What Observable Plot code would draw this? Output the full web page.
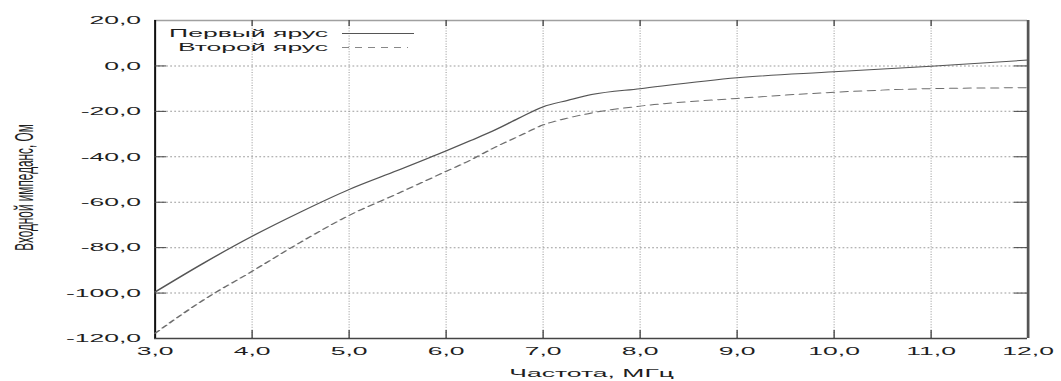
<!DOCTYPE html>
<html><head><meta charset="utf-8">
<script src="https://cdn.jsdelivr.net/npm/d3@7"></script>
<script src="https://cdn.jsdelivr.net/npm/@observablehq/plot@0.6"></script>
<style>
body{margin:0;background:#fff;}
#wrap{position:relative;width:1061px;height:381px;overflow:hidden;background:#fff;}
#wrap svg.ov{position:absolute;left:0;top:0;pointer-events:none;}
</style></head><body>
<div id="wrap"></div>
<script>
// ---- data ----
const freq  = [3, 3.5, 4, 4.5, 5, 5.5, 6, 6.25, 6.5, 6.75, 7, 7.25, 7.5, 8, 9, 10, 11, 12];
const tier1 = [-99.5, -86.8, -75.0, -64.3, -54.4, -46.0, -37.4, -32.9, -28.3, -23.0, -18.0, -15.2, -12.6, -10.0, -5.2, -2.6, -0.1, 2.6];
const tier2 = [-117.7, -103.0, -90.4, -77.6, -65.8, -56.2, -46.4, -41.5, -35.9, -30.9, -26.0, -23.0, -20.7, -17.7, -14.3, -11.6, -10.0, -9.6];
const seriesNames = ["Первый ярус", "Второй ярус"];
const xTicks = [3, 4, 5, 6, 7, 8, 9, 10, 11, 12];
const yTicks = [20, 0, -20, -40, -60, -80, -100, -120];
const xDomain = [3, 12];
const yDomain = [-120, 20];
const xLabel = "Частота, МГц";
const yLabel = "Входной импеданс, Ом";

// ---- chart ----
const S = 2.25; // horizontal stretch of the original picture
const W = 1061 / S, H = 381;
const fmt = d => d.toFixed(1).replace(".", ",");
const rows1 = freq.map((f, i) => ({f, v: tier1[i]}));
const rows2 = freq.map((f, i) => ({f, v: tier2[i]}));
const txt = "#1e1e1e";

const chart = Plot.plot({
  width: W, height: H,
  marginLeft: 154 / S, marginRight: 34 / S, marginTop: 20, marginBottom: 43,
  style: {fontFamily: "'Liberation Sans', Arial, sans-serif", fontSize: "11.8px", color: txt, background: "#fff"},
  x: {domain: xDomain},
  y: {domain: yDomain},
  marks: [
    Plot.gridX(xTicks.slice(1, -1), {stroke: "#a8a8a8", strokeOpacity: 1, strokeWidth: 0.55, strokeDasharray: "1,1.6"}),
    Plot.gridY(yTicks.slice(1, -1), {stroke: "#9c9c9c", strokeOpacity: 1, strokeWidth: 1, strokeDasharray: "0.8,1"}),
    // frame
    Plot.ruleY([yDomain[1]], {stroke: "#a0a0a0", strokeWidth: 1.3}),
    Plot.ruleY([yDomain[0]], {stroke: "#444", strokeWidth: 1.3}),
    Plot.ruleX([xDomain[0]], {stroke: "#111", strokeWidth: 0.9}),
    Plot.ruleX([xDomain[1]], {stroke: "#555", strokeWidth: 1.2}),
    // inward ticks
    Plot.ruleY(yTicks.slice(1, -1), {x1: xDomain[0], x2: xDomain[0] + 0.125, stroke: "#444", strokeWidth: 1}),
    Plot.ruleY(yTicks.slice(1, -1), {x1: xDomain[1] - 0.135, x2: xDomain[1], stroke: "#444", strokeWidth: 1}),
    Plot.ruleX(xTicks.slice(1, -1), {y1: yDomain[1], y2: yDomain[1] - 2.6, stroke: "#444", strokeWidth: 0.6}),
    Plot.ruleX(xTicks.slice(1, -1), {y1: yDomain[0], y2: yDomain[0] + 3.5, stroke: "#444", strokeWidth: 0.6}),
    // series
    Plot.line(rows2, {x: "f", y: "v", curve: "monotone-x", stroke: "#6e6e6e", strokeWidth: 1, strokeDasharray: "3.3,2.8"}),
    Plot.line(rows1, {x: "f", y: "v", curve: "monotone-x", stroke: "#555", strokeWidth: 1}),
    // axes
    Plot.axisX(xTicks, {tickSize: 0, tickPadding: 8.5, tickFormat: fmt, label: null, fill: txt}),
    Plot.axisY(yTicks, {tickSize: 0, tickPadding: 14 / S, tickFormat: fmt, label: null, fill: txt}),
    // labels
    Plot.text([xLabel], {text: d => d, frameAnchor: "bottom", textAnchor: "middle", lineAnchor: "middle", dy: 34.5, fill: txt}),
    Plot.text([yLabel], {text: d => d, frameAnchor: "left", textAnchor: "middle", lineAnchor: "middle", rotate: -90, dx: (23 - 154) / S, dy: 8, fill: txt}),
    // legend labels
    Plot.text([seriesNames[0]], {text: d => d, frameAnchor: "top-left", textAnchor: "end", lineAnchor: "middle", dx: (327 - 154) / S, dy: 12.6, fill: txt}),
    Plot.text([seriesNames[1]], {text: d => d, frameAnchor: "top-left", textAnchor: "end", lineAnchor: "middle", dx: (327 - 154) / S, dy: 26.6, fill: txt})
  ]
});
chart.setAttribute("preserveAspectRatio", "none");
chart.setAttribute("width", 1061);
chart.setAttribute("height", 381);
chart.style.width = "1061px";
chart.style.height = "381px";
chart.style.maxWidth = "none";
const wrap = document.getElementById("wrap");
wrap.appendChild(chart);

// legend line samples
const legendItems = [
  {name: seriesNames[0], stroke: "#555", dash: null, y: 33.5, len: 72},
  {name: seriesNames[1], stroke: "#888", dash: "7,6", y: 47.5, len: 66}
];
const ov = d3.select(wrap).append("svg").attr("class", "ov").attr("width", 1061).attr("height", 381);
ov.selectAll("line").data(legendItems).join("line")
  .attr("x1", 342).attr("x2", d => 342 + d.len)
  .attr("y1", d => d.y).attr("y2", d => d.y)
  .attr("stroke", d => d.stroke).attr("stroke-width", 1)
  .attr("stroke-dasharray", d => d.dash);
</script>
</body></html>
